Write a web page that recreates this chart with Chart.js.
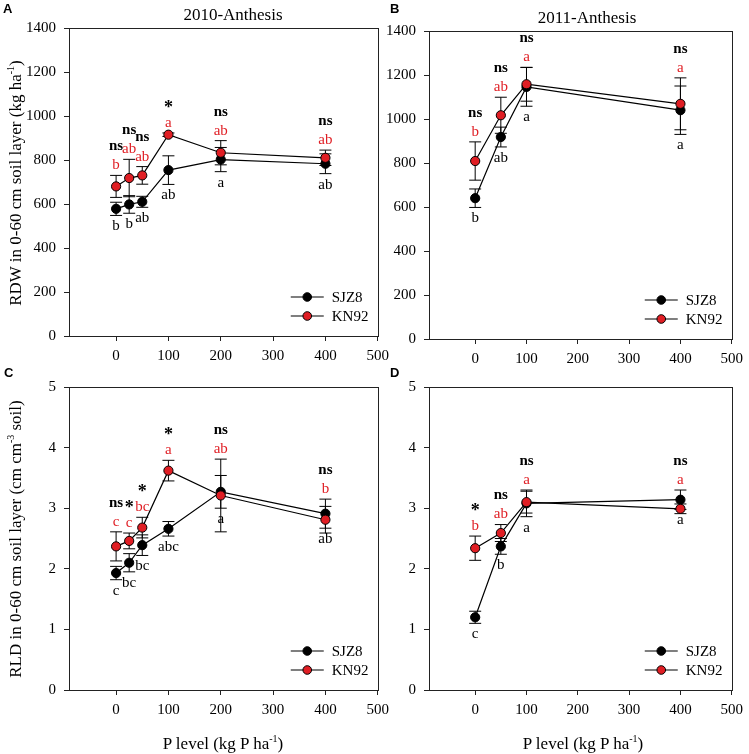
<!DOCTYPE html>
<html>
<head>
<meta charset="utf-8">
<script src="https://cdn.jsdelivr.net/npm/chart.js@4"></script>
<style>
body { margin: 0; background: #fff; }
#wrap { position: relative; width: 749px; height: 754px; overflow: hidden; font-family: 'Liberation Serif', 'Times New Roman', serif; color: #000; }
canvas { position: absolute; }
.lbl { position: absolute; white-space: nowrap; line-height: 1; }
.letter { font-family: 'Liberation Sans', Arial, sans-serif; font-weight: bold; font-size: 13px; }
.ttl { font-size: 17px; transform: translateX(-50%); }
.ytl { font-size: 17px; transform: translate(-50%, -50%) rotate(-90deg); }
.xtl { font-size: 17px; transform: translate(-50%, -50%); }
.sup { font-size: 10px; position: relative; top: -7px; }
</style>
</head>
<body>
<div id="wrap">
  <canvas id="chartA" width="395" height="370" style="left:0;top:0"></canvas>
  <canvas id="chartB" width="369" height="370" style="left:380px;top:0"></canvas>
  <canvas id="chartC" width="395" height="384" style="left:0;top:370px"></canvas>
  <canvas id="chartD" width="369" height="384" style="left:380px;top:370px"></canvas>

  <div class="lbl letter" style="left:3px;top:2px">A</div>
  <div class="lbl letter" style="left:390px;top:2px">B</div>
  <div class="lbl letter" style="left:4px;top:366px">C</div>
  <div class="lbl letter" style="left:390px;top:366px">D</div>

  <div class="lbl ttl" style="left:233px;top:6px">2010-Anthesis</div>
  <div class="lbl ttl" style="left:587px;top:9px">2011-Anthesis</div>

  <div class="lbl ytl" style="left:15px;top:183px">RDW in 0-60 cm soil layer (kg ha<span class="sup">-1</span>)</div>
  <div class="lbl ytl" style="left:15px;top:539px">RLD in 0-60 cm soil layer (cm cm<span class="sup">-3</span> soil)</div>

  <div class="lbl xtl" style="left:223px;top:743px">P level (kg P ha<span class="sup">-1</span>)</div>
  <div class="lbl xtl" style="left:583px;top:743px">P level (kg P ha<span class="sup">-1</span>)</div>
</div>
<script>
// P levels (kg P ha-1)
const pLevels2010 = [0, 25, 50, 100, 200, 400];
const pLevels2011 = [0, 50, 100, 400];
const xTickValues = [0, 100, 200, 300, 400, 500];

// A: RDW 2010
const rdw2010Sjz = [578, 598, 610, 754, 802, 783];
const rdw2010SjzErr = [30, 40, 25, 65, 55, 45];
const rdw2010Kn = [680, 718, 730, 915, 833, 810];
const rdw2010KnErr = [50, 85, 40, 8, 55, 35];
const rdw2010Sig = ['ns', 'ns', 'ns', '*', 'ns', 'ns'];
const rdw2010KnLetters = ['b', 'ab', 'ab', 'a', 'ab', 'ab'];
const rdw2010SjzLetters = ['b', 'b', 'ab', 'ab', 'a', 'ab'];

// B: RDW 2011
const rdw2011Sjz = [640, 918, 1146, 1040];
const rdw2011SjzErr = [42, 45, 88, 110];
const rdw2011Kn = [809, 1017, 1158, 1069];
const rdw2011KnErr = [87, 82, 77, 118];
const rdw2011Sig = ['ns', 'ns', 'ns', 'ns'];
const rdw2011KnLetters = ['b', 'ab', 'a', 'a'];
const rdw2011SjzLetters = ['b', 'ab', 'a', 'a'];

// C: RLD 2010
const rld2010Sjz = [1.93, 2.10, 2.39, 2.66, 3.27, 2.91];
const rld2010SjzErr = [0.11, 0.15, 0.17, 0.12, 0.27, 0.24];
const rld2010Kn = [2.37, 2.46, 2.68, 3.62, 3.21, 2.81];
const rld2010KnErr = [0.24, 0.13, 0.17, 0.17, 0.60, 0.22];
const rld2010Sig = ['ns', '*', '*', '*', 'ns', 'ns'];
const rld2010KnLetters = ['c', 'c', 'bc', 'a', 'ab', 'b'];
const rld2010SjzLetters = ['c', 'bc', 'bc', 'abc', 'a', 'ab'];

// D: RLD 2011
const rld2011Sjz = [1.20, 2.37, 3.08, 3.14];
const rld2011SjzErr = [0.10, 0.13, 0.22, 0.16];
const rld2011Kn = [2.34, 2.59, 3.10, 2.99];
const rld2011KnErr = [0.20, 0.14, 0.18, 0.08];
const rld2011Sig = ['*', 'ns', 'ns', 'ns'];
const rld2011KnLetters = ['b', 'ab', 'a', 'a'];
const rld2011SjzLetters = ['c', 'b', 'a', 'a'];

const SERIF = "'Liberation Serif', 'Times New Roman', serif";
const RED = '#e01e24';
const AXIS = '#222';

Chart.defaults.font.family = SERIF;
Chart.defaults.color = '#000';

const framePlugin = {
    id: 'frame',
    afterDraw(chart) {
        const a = chart.chartArea;
        const c = chart.ctx;
        c.save();
        c.strokeStyle = AXIS;
        c.lineWidth = 1;
        c.strokeRect(Math.round(a.left) + 0.5, Math.round(a.top) + 0.5, Math.round(a.right - a.left), Math.round(a.bottom - a.top));
        c.restore();
    }
};

const errorBarPlugin = {
    id: 'errorBars',
    beforeDatasetsDraw(chart) {
        const c = chart.ctx;
        const xs = chart.scales.x, ys = chart.scales.y;
        c.save();
        c.strokeStyle = '#000';
        c.lineWidth = 1;
        chart.data.datasets.forEach(ds => {
            ds.data.forEach((p, i) => {
                const err = ds.errors[i];
                const px = xs.getPixelForValue(p.x);
                const top = ys.getPixelForValue(p.y + err);
                const bot = ys.getPixelForValue(p.y - err);
                c.beginPath();
                c.moveTo(px, top); c.lineTo(px, bot);
                c.moveTo(px - 6, top); c.lineTo(px + 6, top);
                c.moveTo(px - 6, bot); c.lineTo(px + 6, bot);
                c.stroke();
            });
        });
        c.restore();
    }
};

// letters above KN92 and below SJZ8, significance mark on top
const annotationPlugin = {
    id: 'annotations',
    afterDatasetsDraw(chart) {
        const opts = chart.options.plugins.annotations;
        const c = chart.ctx;
        const xs = chart.scales.x, ys = chart.scales.y;
        const sjz = chart.data.datasets[1], kn = chart.data.datasets[0];
        c.save();
        c.textAlign = 'center';
        c.textBaseline = 'middle';
        opts.sig.forEach((s, i) => {
            const px = xs.getPixelForValue(kn.data[i].x);
            const top = Math.min(ys.getPixelForValue(kn.data[i].y + kn.errors[i]), ys.getPixelForValue(sjz.data[i].y + sjz.errors[i]));
            const bot = ys.getPixelForValue(sjz.data[i].y - sjz.errors[i]);
            c.fillStyle = '#000';
            c.font = s === '*' ? 'bold 18px ' + SERIF : 'bold 15px ' + SERIF;
            c.fillText(s, px, top - 29 + (s === '*' ? 4 : 0));
            c.font = '15px ' + SERIF;
            c.fillStyle = RED;
            c.fillText(opts.knLetters[i], px, top - 10);
            c.fillStyle = '#000';
            c.fillText(opts.sjzLetters[i], px, bot + 11);
        });
        c.restore();
    }
};

const legendPlugin = {
    id: 'cornerLegend',
    afterDraw(chart) {
        const a = chart.chartArea;
        const c = chart.ctx;
        const rows = [['SJZ8', '#000'], ['KN92', RED]];
        c.save();
        rows.forEach((r, k) => {
            const y = a.bottom - 39 + k * 19;
            c.strokeStyle = '#000';
            c.lineWidth = 1.2;
            c.beginPath();
            c.moveTo(a.right - 87, y); c.lineTo(a.right - 54, y);
            c.stroke();
            c.beginPath();
            c.arc(a.right - 70.5, y, 4.3, 0, Math.PI * 2);
            c.fillStyle = r[1];
            c.fill();
            c.lineWidth = 1;
            c.stroke();
            c.fillStyle = '#000';
            c.font = '15px ' + SERIF;
            c.textAlign = 'left';
            c.textBaseline = 'middle';
            c.fillText(r[0], a.right - 46, y + 1);
        });
        c.restore();
    }
};

function points(xs, ys) {
    return xs.map((x, i) => ({ x: x, y: ys[i] }));
}

function makePanel(id, xs, sjz, sjzErr, kn, knErr, sig, knLetters, sjzLetters, yMax, yStep, layout) {
    const ctx = document.getElementById(id).getContext('2d');
    return new Chart(ctx, {
        type: 'line',
        data: {
            datasets: [{
                label: 'KN92',
                data: points(xs, kn),
                errors: knErr,
                borderColor: '#000',
                borderWidth: 1.2,
                pointRadius: 4.6,
                pointBackgroundColor: RED,
                pointBorderColor: '#000',
                pointBorderWidth: 1,
                tension: 0,
                order: 0
            }, {
                label: 'SJZ8',
                data: points(xs, sjz),
                errors: sjzErr,
                borderColor: '#000',
                borderWidth: 1.2,
                pointRadius: 4.6,
                pointBackgroundColor: '#000',
                pointBorderColor: '#000',
                pointBorderWidth: 1,
                tension: 0,
                order: 1
            }]
        },
        options: {
            responsive: false,
            animation: false,
            layout: { padding: { left: 0, top: layout.top, right: layout.right, bottom: 0 } },
            plugins: {
                legend: { display: false },
                tooltip: { enabled: false },
                annotations: { sig: sig, knLetters: knLetters, sjzLetters: sjzLetters }
            },
            scales: {
                x: {
                    type: 'linear',
                    min: -90,
                    max: 500,
                    afterBuildTicks: s => { s.ticks = xTickValues.map(v => ({ value: v })); },
                    afterFit: s => { s.height = layout.xH; },
                    grid: { drawOnChartArea: false, drawTicks: true, tickLength: 5, color: AXIS },
                    border: { display: true, color: AXIS, width: 1 },
                    ticks: { color: '#000', font: { size: 15 }, padding: 6, maxRotation: 0, callback: v => String(v) }
                },
                y: {
                    min: 0,
                    max: yMax,
                    afterFit: s => { s.width = layout.yW; },
                    grid: { drawOnChartArea: false, drawTicks: true, tickLength: 5, color: AXIS },
                    border: { display: true, color: AXIS, width: 1 },
                    ticks: { stepSize: yStep, color: '#000', font: { size: 15 }, padding: 8, callback: v => String(v) }
                }
            }
        },
        plugins: [errorBarPlugin, annotationPlugin, framePlugin, legendPlugin]
    });
}

makePanel('chartA', pLevels2010, rdw2010Sjz, rdw2010SjzErr, rdw2010Kn, rdw2010KnErr,
    rdw2010Sig, rdw2010KnLetters, rdw2010SjzLetters, 1400, 200, { top: 28, right: 17, yW: 69, xH: 34 });
makePanel('chartB', pLevels2011, rdw2011Sjz, rdw2011SjzErr, rdw2011Kn, rdw2011KnErr,
    rdw2011Sig, rdw2011KnLetters, rdw2011SjzLetters, 1400, 200, { top: 31, right: 12, yW: 49, xH: 31 });
makePanel('chartC', pLevels2010, rld2010Sjz, rld2010SjzErr, rld2010Kn, rld2010KnErr,
    rld2010Sig, rld2010KnLetters, rld2010SjzLetters, 5, 1, { top: 12, right: 17, yW: 69, xH: 64 });
makePanel('chartD', pLevels2011, rld2011Sjz, rld2011SjzErr, rld2011Kn, rld2011KnErr,
    rld2011Sig, rld2011KnLetters, rld2011SjzLetters, 5, 1, { top: 12, right: 12, yW: 49, xH: 64 });
</script>
</body>
</html>
